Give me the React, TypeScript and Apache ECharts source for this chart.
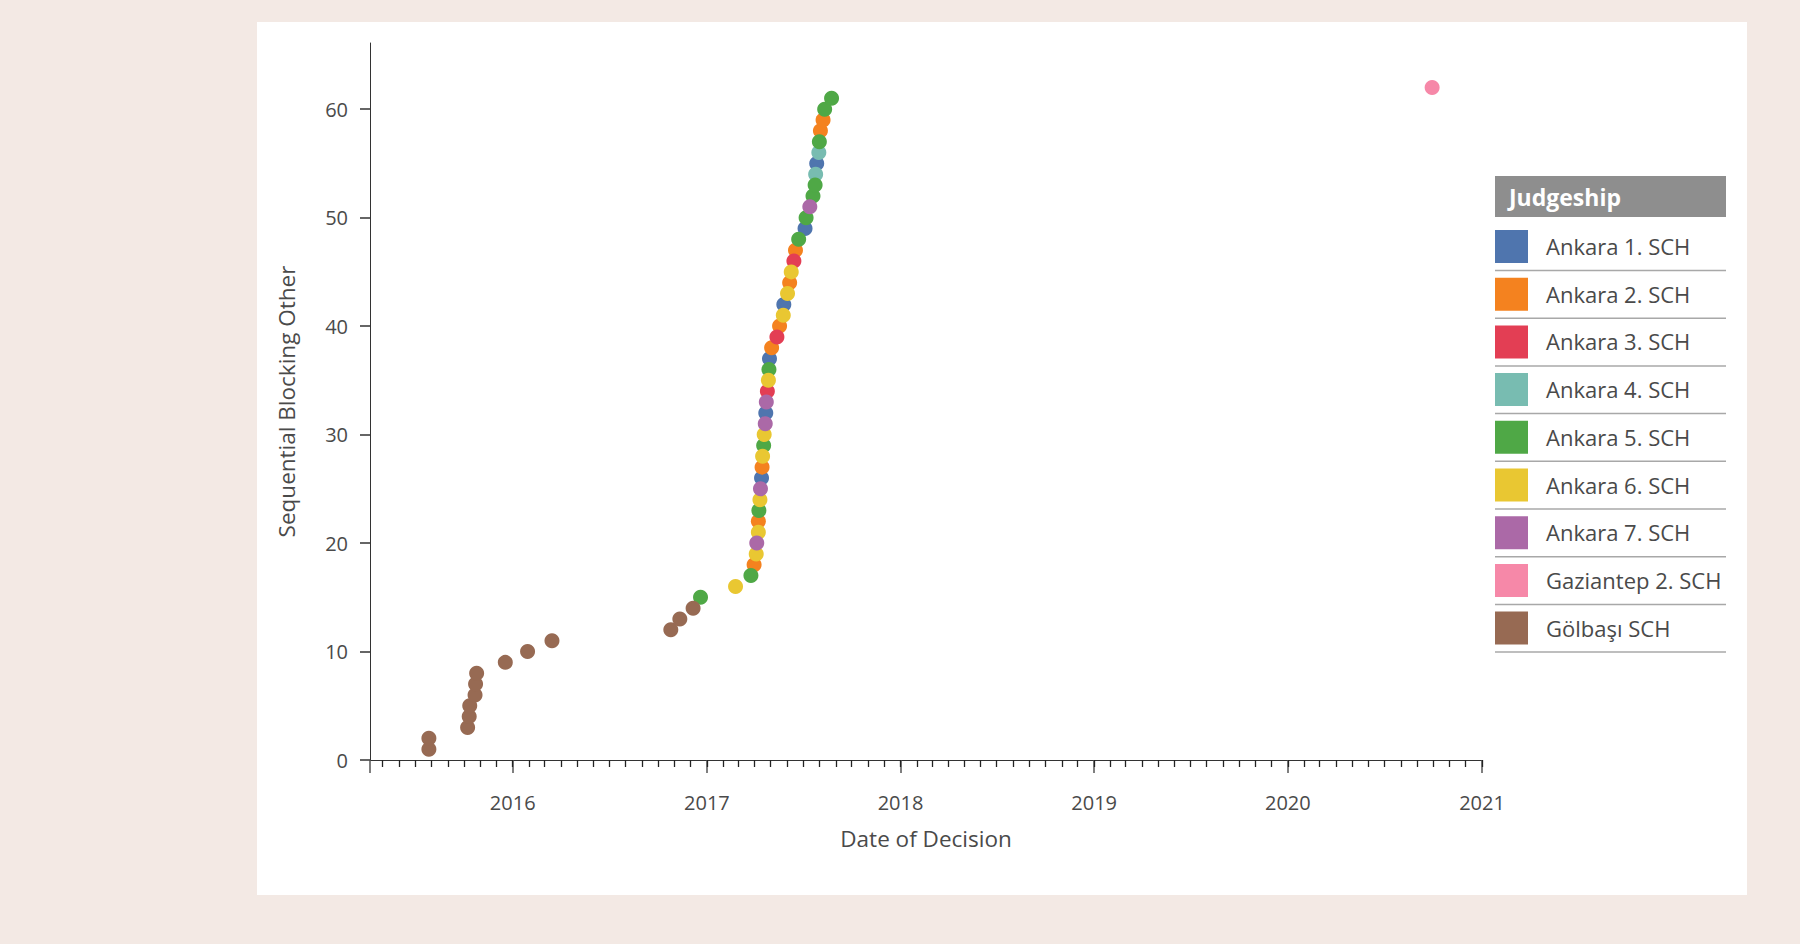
import React, { useEffect, useRef } from 'react';
import * as echarts from 'echarts';

// judgeships and their colours (legend order)
const judgeships = [
  'Ankara 1. SCH',
  'Ankara 2. SCH',
  'Ankara 3. SCH',
  'Ankara 4. SCH',
  'Ankara 5. SCH',
  'Ankara 6. SCH',
  'Ankara 7. SCH',
  'Gaziantep 2. SCH',
  'Gölbaşı SCH',
];
const colors = ['#4f75ae', '#f4821f', '#e33e54', '#78bcb1', '#4fa846', '#e9c732', '#ab69a7', '#f688a8', '#976a53'];

// [date of decision, sequential number]
const ankara1 = [['2017-04-14', 26], ['2017-04-22', 32], ['2017-04-29', 37], ['2017-05-26', 42], ['2017-07-05', 49], ['2017-07-27', 55]];
const ankara2 = [['2017-03-31', 18], ['2017-04-08', 22], ['2017-04-15', 27], ['2017-05-03', 38], ['2017-05-18', 40], ['2017-06-06', 44], ['2017-06-17', 47], ['2017-08-03', 58], ['2017-08-08', 59]];
const ankara3 = [['2017-04-25', 34], ['2017-05-13', 39], ['2017-06-14', 46]];
const ankara4 = [['2017-07-25', 54], ['2017-07-31', 56]];
const ankara5 = [['2016-12-20', 15], ['2017-03-25', 17], ['2017-04-09', 23], ['2017-04-18', 29], ['2017-04-28', 36], ['2017-06-23', 48], ['2017-07-07', 50], ['2017-07-20', 52], ['2017-07-24', 53], ['2017-08-01', 57], ['2017-08-11', 60], ['2017-08-24', 61]];
const ankara6 = [['2017-02-24', 16], ['2017-04-04', 19], ['2017-04-08', 21], ['2017-04-11', 24], ['2017-04-16', 28], ['2017-04-19', 30], ['2017-04-27', 35], ['2017-05-25', 41], ['2017-06-02', 43], ['2017-06-09', 45]];
const ankara7 = [['2017-04-05', 20], ['2017-04-12', 25], ['2017-04-21', 31], ['2017-04-23', 33], ['2017-07-14', 51]];
const gaziantep2 = [['2020-09-29', 62]];
const golbasi = [['2015-07-27', 1], ['2015-07-27', 2], ['2015-10-08', 3], ['2015-10-11', 4], ['2015-10-12', 5], ['2015-10-22', 6], ['2015-10-23', 7], ['2015-10-25', 8], ['2015-12-18', 9], ['2016-01-29', 10], ['2016-03-15', 11], ['2016-10-25', 12], ['2016-11-11', 13], ['2016-12-06', 14]];

const seriesPoints = [ankara1, ankara2, ankara3, ankara4, ankara5, ankara6, ankara7, gaziantep2, golbasi];

// axis ticks
const yTicks = [0, 10, 20, 30, 40, 50, 60];
const yearTicks = ['2016-01-01', '2017-01-01', '2018-01-01', '2019-01-01', '2020-01-01', '2021-01-01'];
const axisStart = '2015-04-07';
const axisEnd = '2021-01-01';

const toTime = (s: string) => {
  const [y, m, d] = s.split('-').map(Number);
  return new Date(y, m - 1, d).getTime();
};

const FONT = '"Open Sans", "Noto Sans", sans-serif';
const TEXT = '#4a4a4a';

const App = () => {
  const chartRef = useRef<HTMLDivElement>(null);

  useEffect(() => {
    const chart = echarts.init(chartRef.current, null, { renderer: 'svg' });

    const xMin = toTime(axisStart);
    const xMax = toTime(axisEnd);

    // month starts for the small ticks
    const monthTicks: number[] = [];
    const d = new Date(xMin);
    d.setDate(1);
    d.setMonth(d.getMonth() + 1);
    while (d.getTime() <= xMax) {
      monthTicks.push(d.getTime());
      d.setMonth(d.getMonth() + 1);
    }

    // legend drawn by hand
    const legendX = 1495;
    const legendW = 231;
    const rowTop = 230;
    const rowH = 47.7;
    const legend: any[] = [
      {
        type: 'rect',
        shape: { x: legendX, y: 176, width: legendW, height: 41 },
        style: { fill: '#8e8e8e' },
      },
      {
        type: 'text',
        x: legendX + 14,
        y: 197,
        style: { text: 'Judgeship', fill: '#fff', font: `bold 23px ${FONT}`, verticalAlign: 'middle' },
      },
    ];
    judgeships.forEach((name, i) => {
      const top = rowTop + i * rowH;
      legend.push(
        { type: 'rect', shape: { x: legendX, y: top, width: 33, height: 33 }, style: { fill: colors[i] } },
        {
          type: 'text',
          x: legendX + 51,
          y: top + 16,
          style: { text: name, fill: TEXT, font: `22px ${FONT}`, verticalAlign: 'middle' },
        },
        {
          type: 'line',
          shape: { x1: legendX, y1: top + 40.5, x2: legendX + legendW, y2: top + 40.5 },
          style: { stroke: '#a8a8a8', lineWidth: 1.5 },
        }
      );
    });

    const option = {
      animation: false,
      backgroundColor: '#f3e9e4',
      textStyle: { fontFamily: FONT },
      grid: { left: 370, top: 43, right: 318, bottom: 184, containLabel: false },
      graphic: [
        {
          type: 'rect',
          z: -10,
          shape: { x: 257, y: 22, width: 1490, height: 873 },
          style: { fill: '#ffffff' },
        },
        ...legend,
      ],
      xAxis: [
        {
          type: 'value',
          min: xMin,
          max: xMax,
          name: 'Date of Decision',
          nameLocation: 'middle',
          nameGap: 67,
          nameTextStyle: { fontSize: 22.5, color: TEXT, fontFamily: FONT },
          axisLine: { lineStyle: { color: '#333', width: 1 } },
          axisTick: {
            show: true,
            length: 13,
            customValues: [xMin, ...yearTicks.map(toTime)],
            lineStyle: { color: '#555', width: 1.5 },
          },
          axisLabel: {
            customValues: yearTicks.map(toTime),
            formatter: (v: number) => String(new Date(v).getFullYear()),
            fontSize: 20,
            color: TEXT,
            margin: 32,
            fontFamily: FONT,
          },
          splitLine: { show: false },
        },
        {
          type: 'value',
          min: xMin,
          max: xMax,
          position: 'bottom',
          axisLine: { show: false },
          axisTick: {
            show: true,
            length: 7,
            customValues: monthTicks,
            lineStyle: { color: '#222', width: 1.3 },
          },
          axisLabel: { show: false },
          splitLine: { show: false },
        },
      ],
      yAxis: {
        type: 'value',
        min: 0,
        max: 66.1,
        name: 'Sequential Blocking Other',
        nameLocation: 'middle',
        nameGap: 72,
        nameTextStyle: { fontSize: 22.5, color: TEXT, fontFamily: FONT },
        axisLine: { show: true, lineStyle: { color: '#333', width: 1 } },
        axisTick: { show: true, length: 10, customValues: yTicks, lineStyle: { color: '#333', width: 1.5 } },
        axisLabel: { customValues: yTicks, fontSize: 20, color: TEXT, margin: 22, fontFamily: FONT },
        splitLine: { show: false },
      },
      series: seriesPoints.map((pts, i) => ({
        name: judgeships[i],
        type: 'scatter',
        xAxisIndex: 0,
        symbolSize: 15,
        itemStyle: { color: colors[i], opacity: 1 },
        data: pts.map(([date, n]) => [toTime(date as string), n]),
      })),
    };

    chart.setOption(option);

    return () => {
      chart.dispose();
    };
  }, []);

  return (
    <div
      ref={chartRef}
      style={{ position: 'fixed', left: 0, top: 0, width: 1800, height: 944 }}
    />
  );
};

export default App;
